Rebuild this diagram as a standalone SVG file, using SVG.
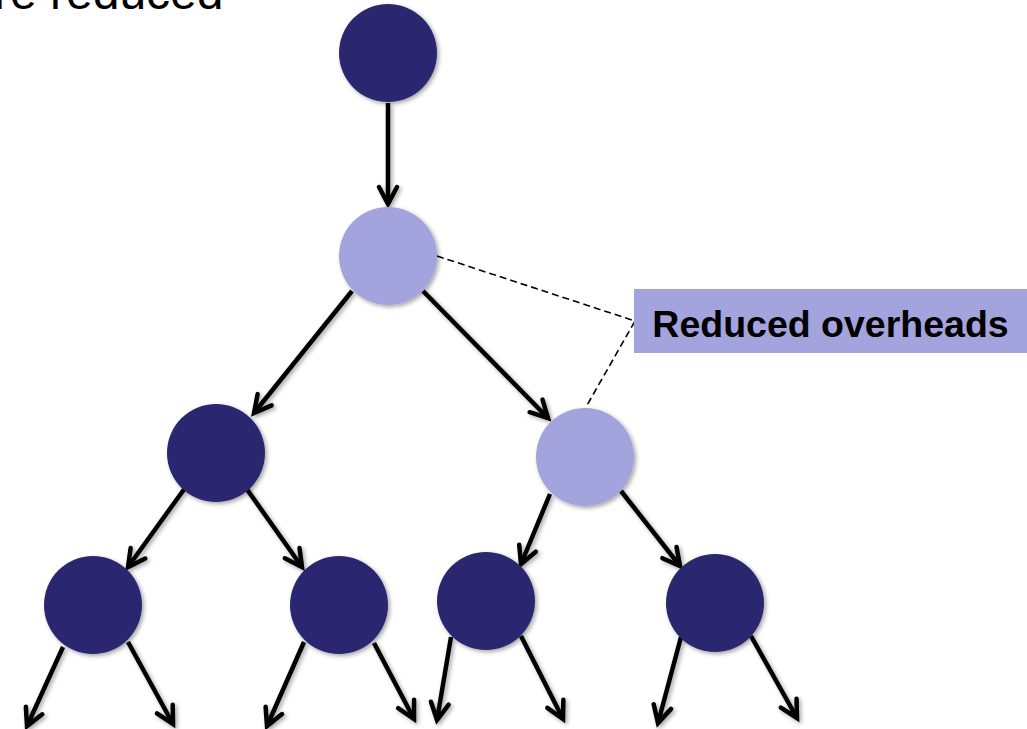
<svg xmlns="http://www.w3.org/2000/svg" width="1027" height="729" viewBox="0 0 1027 729">
  <defs>
    <filter id="shadow" x="-20%" y="-20%" width="150%" height="150%">
      <feDropShadow dx="2" dy="2" stdDeviation="2" flood-color="#000" flood-opacity="0.35"/>
    </filter>
    <marker id="chevron" markerUnits="userSpaceOnUse" orient="auto" refX="0" refY="0" markerWidth="30" markerHeight="30" overflow="visible">
      <path d="M -17 -9 L 0 0 L -17 9" fill="none" stroke="#000" stroke-width="4.5" stroke-linecap="round" stroke-linejoin="miter"/>
    </marker>
    <style>
      .dark { fill: #29286f; }
      .light { fill: #a3a3dd; }
      .edge { stroke: #000; stroke-width: 4.5; fill: none; marker-end: url(#chevron); }
      .callout { stroke: #000; stroke-width: 1.6; fill: none; stroke-dasharray: 7 4; }
      .caption { font-family: "Liberation Sans", Arial, sans-serif; font-size: 48px; fill: #000; }
      .label { font-family: "Liberation Sans", Arial, sans-serif; font-size: 37.5px; font-weight: bold; fill: #000; }
    </style>
  </defs>

  <rect width="1027" height="729" fill="#fff"/>

  <!-- heading text, cut off by the top edge -->
  <text class="caption" x="-6" y="9">re reduced</text>

  <!-- tree edges -->
  <g id="connectors" filter="url(#shadow)">
    <line class="edge" x1="388" y1="103" x2="388" y2="204"/>
    <line class="edge" x1="352" y1="291" x2="254" y2="413"/>
    <line class="edge" x1="423" y1="291" x2="548" y2="418"/>
    <line class="edge" x1="185" y1="488" x2="128" y2="567"/>
    <line class="edge" x1="246" y1="488" x2="302" y2="567"/>
    <line class="edge" x1="550" y1="494" x2="521" y2="564"/>
    <line class="edge" x1="621" y1="491" x2="680" y2="566"/>
    <line class="edge" x1="63" y1="647" x2="27" y2="726"/>
    <line class="edge" x1="128" y1="642" x2="173" y2="724"/>
    <line class="edge" x1="304" y1="642" x2="267" y2="726"/>
    <line class="edge" x1="374" y1="643" x2="414" y2="719"/>
    <line class="edge" x1="451" y1="637" x2="437" y2="720"/>
    <line class="edge" x1="521" y1="636" x2="563" y2="719"/>
    <line class="edge" x1="681" y1="637" x2="658" y2="723"/>
    <line class="edge" x1="751" y1="636" x2="797" y2="718"/>
  </g>

  <!-- dashed callout lines -->
  <g id="callout-lines">
    <polyline class="callout" points="437,256 635,321 586,407"/>
  </g>

  <!-- nodes -->
  <g id="n-root" filter="url(#shadow)"><circle class="dark" cx="388" cy="53" r="49"/></g>
  <g id="n-mid" filter="url(#shadow)"><circle class="light" cx="388" cy="256" r="49"/></g>
  <g id="n-left" filter="url(#shadow)"><circle class="dark" cx="216" cy="453" r="49"/></g>
  <g id="n-right" filter="url(#shadow)"><circle class="light" cx="585" cy="457" r="49"/></g>
  <g id="n-ll" filter="url(#shadow)"><circle class="dark" cx="93" cy="605" r="49"/></g>
  <g id="n-lr" filter="url(#shadow)"><circle class="dark" cx="339" cy="605" r="49"/></g>
  <g id="n-rl" filter="url(#shadow)"><circle class="dark" cx="486" cy="601" r="49"/></g>
  <g id="n-rr" filter="url(#shadow)"><circle class="dark" cx="715" cy="603" r="49"/></g>

  <!-- label box -->
  <g id="label-reduced">
    <rect class="light" x="634" y="289" width="393" height="64"/>
    <text class="label" x="830.5" y="337" text-anchor="middle">Reduced overheads</text>
  </g>
</svg>
